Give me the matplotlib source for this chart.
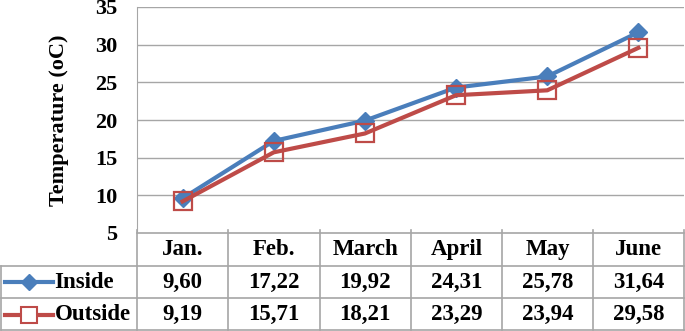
import numpy as np
import matplotlib.pyplot as plt

months = ["Jan.", "Feb.", "March", "April", "May", "June"]
inside = [9.60, 17.22, 19.92, 24.31, 25.78, 31.64]
outside = [9.19, 15.71, 18.21, 23.29, 23.94, 29.58]
yticks = [5, 10, 15, 20, 25, 30, 35]

blue = "#4A7EBB"
red = "#BE4B48"
grid = "#A6A6A6"

plt.rcParams['font.family'] = ['Liberation Serif', 'DejaVu Serif']
plt.rcParams['font.weight'] = 'bold'

W, H = 685, 331
fig = plt.figure(figsize=(W / 100, H / 100), dpi=100)

# plot area in pixels
left, right, top, bottom = 137, 684, 7, 233
ax = fig.add_axes([left / W, 1 - bottom / H, (right - left) / W, (bottom - top) / H])
x = np.arange(len(months))
ax.set_xlim(-0.5, len(months) - 0.5)
ax.set_ylim(5, 35)
ax.set_yticks(yticks)
ax.set_yticklabels([str(v) for v in yticks], fontsize=16, fontweight='bold')
ax.set_xticks([])
ax.tick_params(axis='y', length=0, pad=14)
for v in yticks[1:]:
    ax.axhline(v, color=grid, lw=1, zorder=0)
for s in ['top', 'right', 'bottom']:
    ax.spines[s].set_visible(False)
ax.spines['left'].set_color(grid)

ax.plot(x, inside, color=blue, lw=3, marker='D', ms=9.5, mfc=blue, mec=blue, zorder=3)
ax.plot(x, outside, color=red, lw=3, marker='s', ms=12.5, mfc='none', mec=red, mew=1.6, zorder=3)
ax.set_ylabel("Temperature (oC)", fontsize=16, fontweight='bold', labelpad=19)

# data table below
tax = fig.add_axes([0, 1 - 331 / H, 1, (331 - bottom) / H])
cw = (right - left) / len(months)
lw_units = left / cw
tax.set_xlim(-0.5 - lw_units, len(months) - 0.5 + 0.5 / cw)
tax.set_ylim(0, 3)
tax.axis('off')
x0 = -0.5 - lw_units + 0.5 / cw
xr = len(months) - 0.5
kw = dict(color=grid, lw=1.2, clip_on=False)
tax.plot([-0.5, xr], [3, 3], **kw)
for yy in [2, 1, 0.02]:
    tax.plot([x0, xr], [yy, yy], **kw)
tax.plot([x0, x0], [0.02, 2], **kw)
for i in range(len(months) + 1):
    tax.plot([i - 0.5, i - 0.5], [0.02, 3.08], **kw)

fs = 16.5
for i, m in enumerate(months):
    tax.text(i, 2.5, m, ha='center', va='center', fontsize=fs, fontweight='bold')
    tax.text(i, 1.5, f"{inside[i]:.2f}".replace('.', ','), ha='center', va='center',
             fontsize=fs, fontweight='bold')
    tax.text(i, 0.5, f"{outside[i]:.2f}".replace('.', ','), ha='center', va='center',
             fontsize=fs, fontweight='bold')

# legend keys inside the table
kx0 = x0 + 4 / cw
kx1 = x0 + 52 / cw
tax.plot([kx0, kx1], [1.5, 1.5], color=blue, lw=3)
tax.plot([(kx0 + kx1) / 2], [1.5], marker='D', ms=8, color=blue)
tax.plot([kx0, kx1], [0.5, 0.5], color=red, lw=3)
tax.plot([(kx0 + kx1) / 2], [0.5], marker='s', ms=11, mfc='white', mec=red, mew=1.5)
tax.text(x0 + 54 / cw, 1.5, "Inside", ha='left', va='center', fontsize=fs, fontweight='bold')
tax.text(x0 + 54 / cw, 0.5, "Outside", ha='left', va='center', fontsize=fs, fontweight='bold')

fig.savefig("out.png", dpi=100)
